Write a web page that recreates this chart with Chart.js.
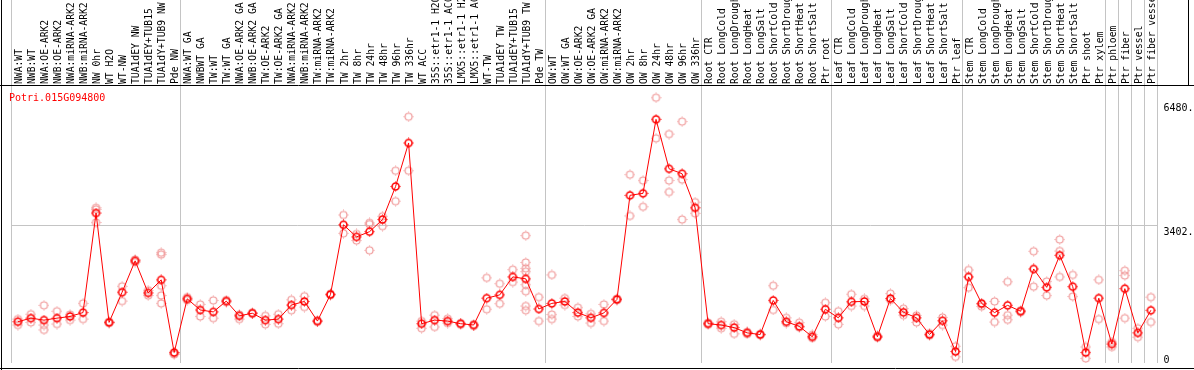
<!DOCTYPE html>
<html>
<head>
<meta charset="utf-8">
<script src="https://cdn.jsdelivr.net/npm/chart.js@4.4.1/dist/chart.umd.min.js"></script>
<style>
  html, body { margin: 0; padding: 0; background: #ffffff; }
  #wrap { width: 1194px; height: 370px; }
  canvas { display: block; }
</style>
</head>
<body>
<div id="wrap"><canvas id="c" width="1194" height="370"></canvas></div>
<script>
// ---------------- data ----------------
const geneId = "Potri.015G094800";

const categories = [
  "NWA:WT", "NWB:WT", "NWA:OE-ARK2", "NWB:OE-ARK2", "NWA:miRNA-ARK2", "NWB:miRNA-ARK2",
  "NW 0hr", "WT H2O", "WT-NW", "TUA1dEY NW", "TUA1dEY+TUB15", "TUA1dY+TUB9 NW", "Pde NW",
  "NWA:WT GA", "NWBWT GA", "TW:WT", "TW:WT GA", "NWA:OE-ARK2 GA", "NWB:OE-ARK2 GA",
  "TW:OE-ARK2", "TW:OE-ARK2 GA", "NWA:miRNA-ARK2", "NWB:miRNA-ARK2", "TW:miRNA-ARK2",
  "TW:miRNA-ARK2", "TW 2hr", "TW 8hr", "TW 24hr", "TW 48hr", "TW 96hr", "TW 336hr",
  "WT ACC", "35S::etr1-1 H2O", "35S::etr1-1 ACC", "LMX5::etr1-1 H2O", "LMX5::etr1-1 ACC",
  "WT-TW", "TUA1dEY TW", "TUA1dEY+TUB15", "TUA1dY+TUB9 TW", "Pde TW",
  "OW:WT", "OW:WT GA", "OW:OE-ARK2", "OW:OE-ARK2 GA", "OW:miRNA-ARK2", "OW:miRNA-ARK2",
  "OW 2hr", "OW 8hr", "OW 24hr", "OW 48hr", "OW 96hr", "OW 336hr",
  "Root CTR", "Root LongCold", "Root LongDrought", "Root LongHeat", "Root LongSalt",
  "Root ShortCold", "Root ShortDrought", "Root ShortHeat", "Root ShortSalt", "Ptr root",
  "Leaf CTR", "Leaf LongCold", "Leaf LongDrought", "Leaf LongHeat", "Leaf LongSalt",
  "Leaf ShortCold", "Leaf ShortDrought", "Leaf ShortHeat", "Leaf ShortSalt", "Ptr leaf",
  "Stem CTR", "Stem LongCold", "Stem LongDrought", "Stem LongHeat", "Stem LongSalt",
  "Stem ShortCold", "Stem ShortDrought", "Stem ShortHeat", "Stem ShortSalt",
  "Ptr shoot", "Ptr xylem", "Ptr phloem", "Ptr fiber", "Ptr vessel", "Ptr fiber vessel"
];

const meanValues = [
  1023, 1112, 1063, 1112, 1153, 1250, 3718, 1007, 1754, 2533,
  1737, 2062, 260, 1591, 1315, 1266, 1534, 1169, 1234, 1063,
  1088, 1437, 1526, 1039, 1697, 3426, 3126, 3256, 3556, 4376,
  5455, 974, 1063, 1039, 974, 942, 1607, 1689, 2135, 2087,
  1339, 1478, 1526, 1250, 1120, 1242, 1575, 4157, 4206, 6040,
  4815, 4693, 3848, 974, 942, 877, 747, 706, 1551, 1023,
  909, 650, 1332, 1120, 1518, 1526, 650, 1599, 1258, 1120,
  706, 1047, 284, 2135, 1478, 1250, 1429, 1283, 2331, 1875,
  2671, 1892, 260, 1607, 471, 1843, 747, 1307
];

const replicateValues = [
  [1088, 942], [1210, 1007], [1429, 942, 820], [1283, 966], [1202, 1063], [1478, 1088],
  [3848, 3807, 3483], [1023, 990], [1900, 1534], [2565, 2500], [1802, 1672],
  [2736, 2687, 1916, 1672, 1478], [211, 240], [1632, 1560], [1453, 1153], [1551, 1112],
  [1560, 1510], [1088, 1200], [1250, 1220], [1169, 958], [1210, 974], [1567, 1307],
  [1656, 1388], [1060, 1020], [1720, 1680], [3670, 3215], [3199, 3036], [3475, 3442, 2793],
  [3637, 3393], [4766, 4011], [6106, 4766], [1039, 860], [1186, 893], [1100, 990],
  [990, 950], [960, 920], [2111, 1332], [1965, 1469], [2314, 2005],
  [3158, 2492, 2346, 2265, 1941, 1778, 1413, 1307], [1632, 1039], [2184, 1202, 1088],
  [1607, 1437], [1372, 1153], [1218, 991], [1453, 1039], [1600, 1560], [4669, 3646],
  [4523, 3872], [6576, 5570], [5675, 4523, 4238], [5984, 4547, 3556], [3987, 3710],
  [1000, 950], [1023, 860], [960, 723], [770, 720], [720, 690], [1916, 1315], [1120, 990],
  [1000, 880], [700, 620], [1494, 1153], [1283, 958], [1705, 1413], [1590, 1413],
  [680, 630], [1721, 1560], [1347, 1186], [1180, 1007], [740, 680], [1128, 942],
  [414, 154], [2306, 1868], [1400, 1450], [1526, 1015], [2014, 1186, 1072], [1300, 1260],
  [2769, 1892], [2021, 1672], [3061, 2776, 2135], [2184, 1648], [398, 114], [2062, 1088],
  [520, 398], [2290, 2168, 1112], [860, 641], [1632, 1015]
];

// group separators (index of first category of each group; last = end)
const groupStarts = [0, 13, 41, 53, 63, 73, 84, 85, 86, 87, 88];

const yTickValues = [0, 3402, 6480];
const yTickLabels = [["0", ""], ["", "3402.0"], ["", "6480.0"]];
const yMax = 6867;

// ---------------- styling helpers ----------------
function makeMarker(color, ringWidth) {
  const c = document.createElement('canvas');
  c.width = 11; c.height = 11;
  const g = c.getContext('2d');
  g.strokeStyle = color;
  g.lineWidth = ringWidth;
  g.beginPath();
  g.arc(5.5, 5.5, 3.5, 0, Math.PI * 2);
  g.stroke();
  g.lineWidth = 1;
  g.beginPath();
  g.moveTo(5.5, 0.5); g.lineTo(5.5, 1.5);
  g.moveTo(5.5, 9.5); g.lineTo(5.5, 10.5);
  g.moveTo(0.5, 5.5); g.lineTo(1.5, 5.5);
  g.moveTo(9.5, 5.5); g.lineTo(10.5, 5.5);
  g.stroke();
  return c;
}
const meanMarker = makeMarker('#ff0000', 1.6);
const repMarker = makeMarker('#f09a9a', 1.2);

// ---------------- datasets ----------------
const maxReps = Math.max(...replicateValues.map(r => r.length));
const datasets = [{
  label: geneId,
  data: meanValues,
  borderColor: '#ff0000',
  backgroundColor: '#ff0000',
  borderWidth: 1,
  tension: 0,
  pointStyle: meanMarker,
  pointRadius: 6,
  pointHoverRadius: 6
}];
for (let k = 0; k < maxReps; k++) {
  datasets.push({
    label: 'rep' + (k + 1),
    data: replicateValues.map(r => (k < r.length ? r[k] : null)),
    showLine: false,
    borderWidth: 0,
    pointStyle: repMarker,
    pointRadius: 6,
    pointHoverRadius: 6
  });
}

const framePlugin = {
  id: 'frame',
  afterDraw(chart) {
    const g = chart.ctx;
    g.save();
    g.strokeStyle = '#000000';
    g.lineWidth = 1;
    g.beginPath();
    g.moveTo(0, 85.5); g.lineTo(1194, 85.5);
    g.moveTo(0, 368.5); g.lineTo(1194, 368.5);
    g.moveTo(1.5, 0); g.lineTo(1.5, 370);
    g.moveTo(1188.5, 0); g.lineTo(1188.5, 85);
    g.stroke();
    g.fillStyle = '#ff0000';
    g.font = '10px "DejaVu Sans Mono"';
    g.textBaseline = 'alphabetic';
    g.textAlign = 'left';
    g.fillText(chart.data.datasets[0].label, 9, 101);
    g.restore();
  }
};

new Chart(document.getElementById('c'), {
  type: 'line',
  data: { labels: categories, datasets: datasets },
  options: {
    responsive: false,
    animation: false,
    devicePixelRatio: 1,
    layout: { padding: { left: 11.4, right: 0, top: 0, bottom: 2 } },
    plugins: {
      legend: { display: false },
      tooltip: { enabled: false },
      title: { display: false }
    },
    scales: {
      x: {
        type: 'category',
        position: 'top',
        offset: true,
        grid: {
          offset: true,
          lineWidth: 1,
          drawTicks: true,
          tickLength: 86,
          color: (ctx) => {
            const idx = ctx.type === 'tick' ? ctx.index : categories.length;
            return groupStarts.includes(idx) ? '#c4c4c4' : 'rgba(0,0,0,0)';
          }
        },
        border: { display: false },
        ticks: {
          autoSkip: false,
          minRotation: 90,
          maxRotation: 90,
          padding: -84,
          labelOffset: 1.5,
          color: '#000000',
          font: { family: 'DejaVu Sans Mono', size: 9.7, lineHeight: '0px' }
        },
        afterFit: (s) => {
          s.height = 86;
          s.paddingLeft = 0; s.paddingRight = 0; s.paddingTop = 0; s.paddingBottom = 0;
        }
      },
      y: {
        position: 'right',
        min: 0,
        max: yMax,
        afterBuildTicks: (s) => { s.ticks = yTickValues.map(v => ({ value: v })); },
        grid: {
          drawTicks: false,
          color: (ctx) => (ctx.tick && ctx.tick.value === 3402 ? '#c4c4c4' : 'rgba(0,0,0,0)')
        },
        border: { display: false },
        ticks: {
          padding: 6,
          color: '#000000',
          font: (ctx) => ({
            family: 'DejaVu Sans Mono',
            size: 10,
            lineHeight: ctx.index === 0 ? '5px' : '13px'
          }),
          callback: (value, index) => yTickLabels[index]
        },
        afterFit: (s) => {
          s.width = 36.6;
          s.paddingLeft = 0; s.paddingRight = 0; s.paddingTop = 0; s.paddingBottom = 0;
        }
      }
    }
  },
  plugins: [framePlugin]
});
</script>
</body>
</html>
